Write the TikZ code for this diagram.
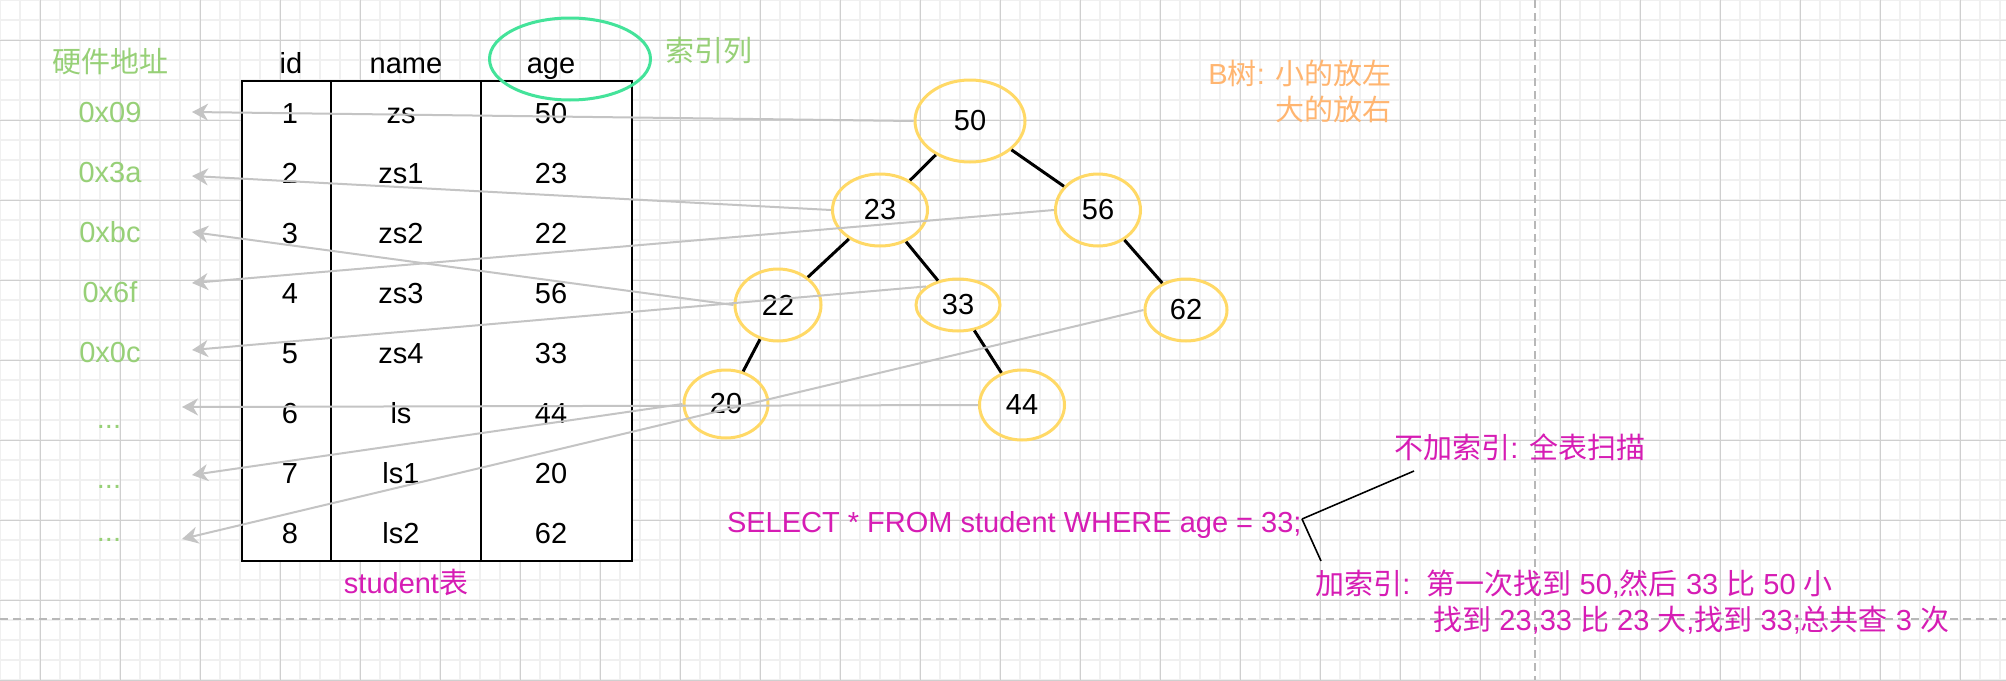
\documentclass[tikz,border=0pt]{standalone}
\usepackage{amsmath}
\usepackage{fontspec}
\setmainfont{Liberation Sans}
\newfontfamily\cjk{Noto Sans CJK SC}
\newcommand{\zh}[1]{{\cjk #1}}
\usetikzlibrary{shapes.geometric,arrows.meta}

\definecolor{addrgreen}{HTML}{97D077}
\definecolor{ringgreen}{HTML}{44E39A}
\definecolor{treeyellow}{HTML}{FFD966}
\definecolor{noteorange}{HTML}{FFB570}
\definecolor{notepink}{HTML}{D61CB4}
\definecolor{ptrgray}{HTML}{C4C4C4}

\begin{document}
\begin{tikzpicture}[x=0.5pt,y=-0.5pt,
    every node/.style={font=\fontsize{14.5}{18}\selectfont, inner sep=0pt},
    gridminor/.style={draw=black!6, line width=0.9pt},
    gridmajor/.style={draw=black!19, line width=0.5pt},
    pagebreak/.style={draw=black!28, line width=0.9pt, dash pattern=on 4pt off 2.5pt},
    addr/.style={text=addrgreen, anchor=base},
    cell/.style={anchor=base},
    treenode/.style={ellipse, draw=treeyellow, line width=1.5pt},
    treeedge/.style={line width=1.5pt},
    ptr/.style={draw=ptrgray, line width=1pt, -{Stealth[length=8pt,width=8.5pt,inset=2.5pt]}},
    note/.style={text=notepink, anchor=base west}]
            \fill[white] (0,0) rectangle (2006,680);
            \useasboundingbox (0,0) rectangle (2006,680);

             %grid
                 \foreach \gx in {0,20,...,2000}
                     \draw[gridminor] (\gx,0) -- (\gx,680);
                 \foreach \gy in {0,20,...,680}
                     \draw[gridminor] (0,\gy) -- (2006,\gy);
                 \foreach \gx in {40,120,...,2000}
                     \draw[gridmajor] (\gx,0) -- (\gx,680);
                 \foreach \gy in {40,120,...,680}
                     \draw[gridmajor] (0,\gy) -- (2006,\gy);
            \draw[pagebreak] (1535,0) -- (1535,680);
            \draw[pagebreak] (0,619) -- (2006,619);

             %table
            \node[draw, line width=1pt, fill=white, minimum width=195pt, minimum height=240pt, anchor=north west] (tbl) at (241,80) {};
            \draw[line width=1pt] (331,80) -- (331,560);
            \draw[line width=1pt] (481,80) -- (481,560);
            \node[cell] (hid) at (291,73) {id};
            \node[cell] (hname) at (406,73) {name};
            \node[cell] (hage) at (551,73) {age};
                 \foreach \i/\nm/\ag in {1/zs/50,2/zs1/23,3/zs2/22,4/zs3/56,5/zs4/33,6/ls/44,7/ls1/20,8/ls2/62}
                 {
                     \node[cell] (id\i) at (290,{63+60*\i}) {\i};
                     \node[cell] (nm\i) at (401,{63+60*\i}) {\nm};
                     \node[cell] (age\i) at (551,{63+60*\i}) {\ag};
                 }
            \node[text=notepink, anchor=base] (tblname) at (406,593) {student\zh{表}};
            \node[ellipse, draw=ringgreen, line width=1.5pt, minimum width=80.5pt, minimum height=41pt] (idxring) at (570,59) {};
            \node[text=addrgreen, anchor=base west] (idxcol) at (665,61) {\zh{索引列}};

             %addresses
            \node[addr] (hwaddr) at (110,72) {\zh{硬件地址}};
                 \foreach \i/\ad in {1/0x09,2/0x3a,3/0xbc,4/0x6f,5/0x0c}
                     \node[addr] (addr\i) at (110,{62+60*\i}) {\ad};
            \node[addr] (addr6) at (109,428) {...};
            \node[addr] (addr7) at (109,488) {...};
            \node[addr] (addr8) at (109,541) {...};

             %tree
            \node[treenode, minimum width=55pt, minimum height=41pt] (n50) at (970,121) {50};
            \node[treenode, minimum width=47.5pt, minimum height=36pt] (n23) at (880,210) {23};
            \node[treenode, minimum width=42.5pt, minimum height=36pt] (n56) at (1098,210) {56};
            \node[treenode, minimum width=43pt, minimum height=36pt] (n22) at (778,305) {22};
            \node[treenode, minimum width=42pt, minimum height=26pt] (n33) at (958,305) {33};
            \node[treenode, minimum width=41pt, minimum height=31pt] (n62) at (1186,310) {62};
            \node[treenode, minimum width=42pt, minimum height=34pt] (n20) at (726,404) {20};
            \node[treenode, minimum width=42.5pt, minimum height=35pt] (n44) at (1022,405) {44};
            \draw[treeedge] (n50) -- (n23);
            \draw[treeedge] (n50) -- (n56);
            \draw[treeedge] (n23) -- (n22);
            \draw[treeedge] (n23) -- (n33);
            \draw[treeedge] (n56) -- (n62);
            \draw[treeedge] (n22) -- (n20);
            \draw[treeedge] (n33) -- (n44);
            \node[text=noteorange, anchor=base east, align=right] (btree) at (1392,120) {B\zh{树}: \zh{小的放左}\\\zh{大的放右}};

             %pointers
            \coordinate (tip1) at (192,112);
            \coordinate (tip2) at (192,176);
            \coordinate (tip3) at (192,232);
            \coordinate (tip4) at (192,283);
            \coordinate (tip5) at (192,350);
            \coordinate (tip6) at (182,407);
            \coordinate (tip7) at (192,475);
            \coordinate (tip8) at (182,539);
            \draw[ptr] (n50.west) -- (tip1);
            \draw[ptr] (n23.west) -- (tip2);
            \draw[ptr] (n22.west) -- (tip3);
            \draw[ptr] (n56.west) -- (tip4);
            \draw[ptr] (n33.150) -- (tip5);
            \draw[ptr] (n44.west) -- (tip6);
            \draw[ptr] (n20.west) -- (tip7);
            \draw[ptr] (n62.west) -- (tip8);

             %query
            \node[text=notepink, anchor=base east] (sql) at (1302,532) {SELECT * FROM student WHERE age = 33;};
            \node[note] (noidx) at (1394,458) {\zh{不加索引}: \zh{全表扫描}};
            \node[note, align=left] (withidx) at (1315,630) {\zh{加索引}:\ \ \zh{第一次找到} 50,\zh{然后} 33 \zh{比} 50 \zh{小}\\\hspace*{59pt}\zh{找到} 23,33 \zh{比} 23 \zh{大},\zh{找到} 33;\zh{总共查} 3 \zh{次}};
            \coordinate (semi) at (1302,519);
            \coordinate (noidxfoot) at (1414,471);
            \coordinate (idxfoot) at (1321,561);
            \draw[line width=0.8pt] (semi) -- (noidxfoot);
            \draw[line width=0.8pt] (semi) -- (idxfoot);
             \end{tikzpicture}
\end{document}
